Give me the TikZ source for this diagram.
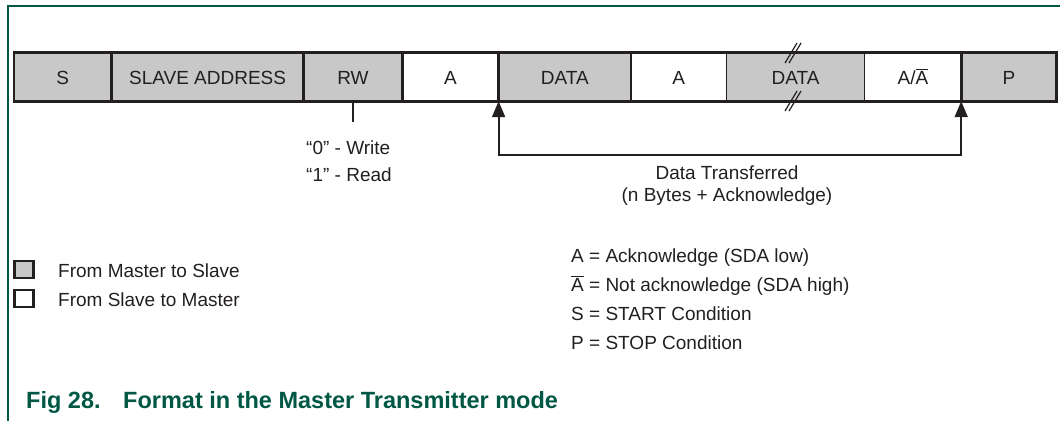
\documentclass[tikz,border=0pt]{standalone}
\usepackage{fontspec}
\setmainfont{Liberation Sans}
\usetikzlibrary{positioning,arrows.meta}
\definecolor{ink}{RGB}{35,31,32}
\definecolor{mgray}{RGB}{200,200,200}
\definecolor{nxpgreen}{RGB}{0,88,68}

\begin{document}
\begin{tikzpicture}[x=1pt,y=-1pt,
  font=\fontsize{19}{23}\selectfont, text=ink,
  fld/.style={rectangle,inner sep=0pt,minimum height=48pt,text height=14pt,text depth=0pt},
  mfld/.style={fld,fill=mgray},
  sfld/.style={fld,fill=white},
  heavy/.style={line width=2.7pt,draw=ink},
  light/.style={line width=1pt,draw=ink},
  key/.style={draw=ink,line width=2.5pt,minimum width=19pt,minimum height=17pt,inner sep=0pt},
  lbl/.style={anchor=base west,inner sep=0pt},
  uptip/.tip={Triangle[length=16pt,width=13pt]}]
  \useasboundingbox (0,0) rectangle (1060,421);
  \draw[nxpgreen,line width=2pt] (8,421) -- (8,5.5) -- (1060,5.5);

  % transfer fields
  \node[mfld,minimum width=97pt,anchor=west] (s) at (14,77) {S};
  \node[mfld,minimum width=192pt,right=0pt of s] (addr) {SLAVE ADDRESS};
  \node[mfld,minimum width=98pt,right=0pt of addr] (rw) {RW};
  \node[sfld,minimum width=96pt,right=0pt of rw] (ack1) {A};
  \node[mfld,minimum width=132pt,right=0pt of ack1] (data1) {DATA};
  \node[sfld,minimum width=95pt,right=0pt of data1] (ack2) {A};
  \node[mfld,minimum width=138pt,right=0pt of ack2] (data2) {DATA};
  \node[sfld,minimum width=96pt,right=0pt of data2] (ack3) {A/$\overline{\hbox{A}}$};
  \node[mfld,minimum width=95pt,right=0pt of ack3] (p) {P};
  \draw[heavy] (s.north west) rectangle (p.south east);
  \foreach \n in {s,addr,rw,ack1,data1,ack3}
    \draw[heavy] (\n.north east) -- (\n.south east);
  \foreach \n in {ack2,data2}
    \draw[light] (\n.north east) -- (\n.south east);
  \foreach \y in {53,101}
    \foreach \dx in {-2,2}
      \draw[light,line width=1.2pt] (793+\dx-6,\y+10) -- (793+\dx+6,\y-10);

  % read/write bit
  \draw[heavy,line width=2.3pt] (rw.south) -- ++(0,21);
  \node[lbl] (wr) at (306,154) {“0” - Write};
  \node[lbl] (rd) at (306,181) {“1” - Read};

  % data bytes
  \draw[draw=ink,line width=2pt,uptip-uptip] (data1.south west) -- ++(0,54) -| (ack3.south east);
  \node[anchor=base,inner sep=0pt] (dt) at (727,179) {Data Transferred};
  \node[anchor=base,inner sep=0pt] (nb) at (727,201.5) {(n Bytes + Acknowledge)};

  % legend
  \node[key,fill=mgray] (kms) at (24,269.5) {};
  \node[lbl] at (58,277) {From Master to Slave};
  \node[key,fill=white] (ksm) at (24,298.5) {};
  \node[lbl] at (58,306) {From Slave to Master};
  \node[lbl] (la) at (571,262) {A = Acknowledge (SDA low)};
  \node[lbl] (lna) at (571,291) {$\overline{\hbox{A}}$ = Not acknowledge (SDA high)};
  \node[lbl] (ls) at (571,320) {S = START Condition};
  \node[lbl] (lp) at (571,349) {P = STOP Condition};

  \node[lbl,text=nxpgreen,font=\fontsize{23.5}{28}\bfseries\selectfont] (fig) at (26,408) {Fig 28.};
  \node[lbl,text=nxpgreen,font=\fontsize{23.5}{28}\bfseries\selectfont] (cap) at (123,408) {Format in the Master Transmitter mode};
\end{tikzpicture}
\end{document}
